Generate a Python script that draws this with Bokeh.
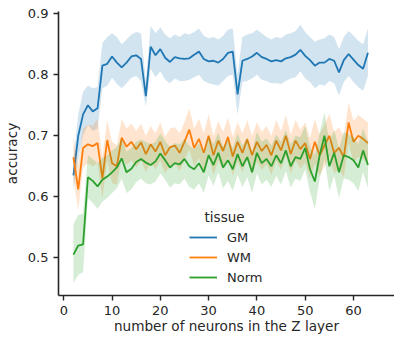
from bokeh.plotting import figure
from bokeh.models import Range1d, Legend, LegendItem, Label, FixedTicker
from bokeh.embed import file_html
from bokeh.resources import INLINE

neurons = list(range(2, 64))

gm = [0.635, 0.700, 0.735, 0.750, 0.740, 0.745, 0.815, 0.818, 0.830, 0.820, 0.812, 0.820, 0.830, 0.832,
      0.826, 0.765, 0.846, 0.832, 0.842, 0.828, 0.821, 0.829, 0.827, 0.826, 0.827, 0.833, 0.838, 0.826,
      0.822, 0.823, 0.820, 0.826, 0.836, 0.838, 0.768, 0.823, 0.826, 0.830, 0.836, 0.829, 0.826, 0.822,
      0.824, 0.822, 0.827, 0.829, 0.833, 0.841, 0.831, 0.824, 0.815, 0.820, 0.820, 0.826, 0.823, 0.804,
      0.824, 0.834, 0.825, 0.816, 0.810, 0.836]
gm_lo = [0.612, 0.662, 0.700, 0.718, 0.708, 0.712, 0.778, 0.782, 0.795, 0.785, 0.778, 0.786, 0.795, 0.798,
         0.790, 0.748, 0.810, 0.796, 0.806, 0.792, 0.786, 0.794, 0.790, 0.790, 0.792, 0.796, 0.800, 0.790,
         0.786, 0.784, 0.782, 0.790, 0.798, 0.800, 0.735, 0.788, 0.790, 0.794, 0.800, 0.792, 0.790, 0.786,
         0.786, 0.785, 0.790, 0.794, 0.796, 0.806, 0.794, 0.788, 0.778, 0.784, 0.782, 0.790, 0.786, 0.766,
         0.788, 0.798, 0.788, 0.780, 0.774, 0.798]
gm_hi = [0.662, 0.735, 0.772, 0.782, 0.778, 0.780, 0.852, 0.862, 0.868, 0.862, 0.850, 0.858, 0.866, 0.870,
         0.868, 0.790, 0.880, 0.868, 0.878, 0.866, 0.860, 0.866, 0.862, 0.868, 0.866, 0.870, 0.876, 0.864,
         0.860, 0.862, 0.858, 0.864, 0.874, 0.876, 0.800, 0.862, 0.866, 0.868, 0.874, 0.868, 0.862, 0.858,
         0.862, 0.860, 0.866, 0.868, 0.872, 0.882, 0.870, 0.862, 0.854, 0.858, 0.860, 0.866, 0.862, 0.842,
         0.862, 0.872, 0.864, 0.856, 0.850, 0.876]

wm = [0.665, 0.612, 0.680, 0.686, 0.683, 0.688, 0.630, 0.693, 0.655, 0.650, 0.697, 0.682, 0.690, 0.678,
      0.689, 0.670, 0.686, 0.674, 0.690, 0.668, 0.681, 0.684, 0.672, 0.690, 0.710, 0.680, 0.695, 0.672,
      0.700, 0.668, 0.692, 0.675, 0.698, 0.666, 0.690, 0.672, 0.694, 0.668, 0.690, 0.675, 0.685, 0.668,
      0.692, 0.676, 0.700, 0.670, 0.692, 0.678, 0.688, 0.662, 0.690, 0.668, 0.684, 0.700, 0.672, 0.680,
      0.665, 0.722, 0.690, 0.700, 0.695, 0.688]
wm_lo = [0.630, 0.578, 0.648, 0.655, 0.650, 0.655, 0.598, 0.660, 0.622, 0.620, 0.665, 0.652, 0.660, 0.648,
         0.660, 0.640, 0.656, 0.645, 0.660, 0.638, 0.652, 0.655, 0.642, 0.660, 0.678, 0.650, 0.664, 0.640,
         0.668, 0.636, 0.660, 0.644, 0.666, 0.635, 0.658, 0.640, 0.662, 0.636, 0.658, 0.644, 0.654, 0.636,
         0.660, 0.644, 0.668, 0.638, 0.660, 0.646, 0.656, 0.630, 0.655, 0.634, 0.650, 0.666, 0.638, 0.646,
         0.632, 0.688, 0.656, 0.666, 0.662, 0.654]
wm_hi = [0.700, 0.650, 0.712, 0.718, 0.716, 0.728, 0.665, 0.726, 0.690, 0.684, 0.728, 0.712, 0.720, 0.708,
         0.720, 0.700, 0.716, 0.704, 0.722, 0.698, 0.712, 0.714, 0.704, 0.722, 0.745, 0.712, 0.728, 0.704,
         0.735, 0.700, 0.724, 0.706, 0.730, 0.698, 0.722, 0.704, 0.726, 0.700, 0.722, 0.706, 0.716, 0.700,
         0.726, 0.708, 0.734, 0.702, 0.726, 0.710, 0.722, 0.696, 0.728, 0.702, 0.718, 0.736, 0.706, 0.714,
         0.700, 0.755, 0.724, 0.734, 0.728, 0.722]

norm = [0.505, 0.520, 0.522, 0.632, 0.626, 0.617, 0.628, 0.633, 0.640, 0.648, 0.663, 0.640, 0.646, 0.657,
        0.662, 0.656, 0.652, 0.658, 0.671, 0.660, 0.648, 0.655, 0.653, 0.662, 0.650, 0.645, 0.655, 0.640,
        0.668, 0.652, 0.672, 0.648, 0.660, 0.645, 0.670, 0.650, 0.665, 0.640, 0.672, 0.655, 0.662, 0.650,
        0.668, 0.655, 0.676, 0.650, 0.665, 0.662, 0.680, 0.645, 0.625, 0.668, 0.700, 0.650, 0.672, 0.640,
        0.668, 0.665, 0.660, 0.648, 0.676, 0.652]
norm_lo = [0.458, 0.472, 0.476, 0.598, 0.590, 0.580, 0.592, 0.598, 0.606, 0.614, 0.630, 0.606, 0.612, 0.624,
           0.630, 0.622, 0.620, 0.625, 0.638, 0.628, 0.615, 0.622, 0.620, 0.630, 0.616, 0.612, 0.622, 0.606,
           0.635, 0.618, 0.640, 0.614, 0.626, 0.610, 0.636, 0.616, 0.632, 0.606, 0.638, 0.620, 0.628, 0.616,
           0.634, 0.620, 0.642, 0.615, 0.630, 0.626, 0.645, 0.608, 0.580, 0.630, 0.662, 0.610, 0.634, 0.598,
           0.630, 0.628, 0.622, 0.610, 0.640, 0.614]
norm_hi = [0.555, 0.570, 0.572, 0.668, 0.662, 0.655, 0.664, 0.668, 0.676, 0.682, 0.696, 0.674, 0.680, 0.690,
           0.694, 0.690, 0.686, 0.690, 0.704, 0.692, 0.682, 0.688, 0.686, 0.695, 0.684, 0.678, 0.688, 0.674,
           0.700, 0.686, 0.705, 0.682, 0.694, 0.680, 0.704, 0.684, 0.698, 0.674, 0.706, 0.690, 0.696, 0.684,
           0.702, 0.690, 0.710, 0.686, 0.700, 0.698, 0.716, 0.682, 0.668, 0.705, 0.738, 0.690, 0.710, 0.680,
           0.706, 0.702, 0.698, 0.686, 0.712, 0.690]

series_names = ["GM", "WM", "Norm"]
series_colors = ["#1f77b4", "#ff7f0e", "#2ca02c"]
x_ticks = [0, 10, 20, 30, 40, 50, 60]
y_ticks = [0.5, 0.6, 0.7, 0.8, 0.9]

FONT = "DejaVu Sans"
TXT = "#262626"

p = figure(width=394, height=339, output_backend="svg", toolbar_location=None,
           x_range=Range1d(-1.09, 68.5), y_range=Range1d(0.438, 0.9038),
           min_border_left=49, min_border_right=0, min_border_top=11, min_border_bottom=44)
p.outline_line_color = None
p.grid.visible = False
p.background_fill_color = "white"

items = []
for name, col, m, lo, hi in zip(series_names, series_colors, [gm, wm, norm],
                                [gm_lo, wm_lo, norm_lo], [gm_hi, wm_hi, norm_hi]):
    p.varea(x=neurons, y1=lo, y2=hi, fill_color=col, fill_alpha=0.2)
    r = p.line(x=neurons, y=m, line_color=col, line_width=1.8)
    items.append(LegendItem(label=name, renderers=[r]))

for ax in (p.xaxis[0], p.yaxis[0]):
    ax.axis_line_color = TXT
    ax.axis_line_width = 1.6
    ax.major_tick_line_color = TXT
    ax.major_tick_line_width = 1.4
    ax.major_tick_out = 5
    ax.major_tick_in = 0
    ax.minor_tick_out = 0
    ax.minor_tick_in = 0
    ax.major_label_text_font = FONT
    ax.major_label_text_font_size = "13px"
    ax.major_label_text_color = TXT
    ax.axis_label_text_font = FONT
    ax.axis_label_text_font_size = "13.6px"
    ax.axis_label_text_font_style = "normal"
    ax.axis_label_text_color = TXT
    ax.major_label_standoff = 5

p.xaxis.ticker = FixedTicker(ticks=x_ticks)
p.yaxis.ticker = FixedTicker(ticks=y_ticks)
p.xaxis.axis_label = "number of neurons in the Z layer"
p.yaxis.axis_label = "accuracy"
p.xaxis.axis_label_standoff = 0
p.yaxis.axis_label_standoff = 5

legend = Legend(items=items, location=(131, 8), padding=0, margin=0, spacing=0,
                glyph_width=28, glyph_height=20, label_height=20, label_standoff=10,
                border_line_alpha=0, background_fill_alpha=0,
                label_text_font=FONT, label_text_font_size="13px", label_text_color=TXT)
p.add_layout(legend)

p.add_layout(Label(x=33.3, y=0.566, text="tissue", text_align="center", text_baseline="middle",
                   text_font=FONT, text_font_size="13.5px", text_color=TXT))

open("out.html", "w").write(file_html(p, INLINE))
